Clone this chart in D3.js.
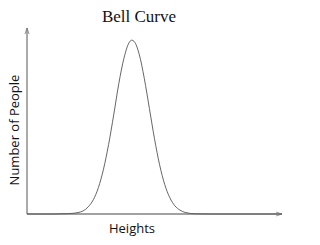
<!doctype html>
<html>
<head>
<meta charset="utf-8">
<style>
  body { margin: 0; background: #fff; }
  svg { display: block; }
</style>
<script src="https://d3js.org/d3.v7.min.js"></script>
</head>
<body>
<svg id="chart" width="320" height="245"></svg>
<script>
// heights (arbitrary units) and number of people
var heights = [0, 10, 16, 20, 24, 26, 28, 30, 32, 34, 36, 38, 40, 41, 42, 44, 46, 48, 50, 52, 54, 56, 58, 60, 62, 66, 72, 100];
var people  = [0, 0, 0.2, 0.8, 4.1, 8.2, 15.2, 25.8, 40, 57, 75, 89.5, 98.5, 100, 99.3, 91.9, 78, 60.7, 43.3, 28.3, 17, 9.4, 4.7, 2.2, 0.9, 0.1, 0, 0];

var titleText = "Bell Curve";
var xLabel = "Heights";
var yLabel = "Number of People";

var svg = d3.select("#chart");
var plotLeft = 27, plotRight = 282, plotBottom = 214, plotTop = 28;

var x = d3.scaleLinear().domain([0, 100]).range([plotLeft, plotRight]);
var y = d3.scaleLinear().domain([0, 107]).range([plotBottom, plotTop]);

// axes with arrowheads
svg.append("line")
  .attr("x1", x(0)).attr("y1", y(0)).attr("x2", x(0)).attr("y2", y(107))
  .attr("stroke", "#555").attr("stroke-width", 1);
svg.append("path")
  .attr("d", "M" + (x(0) - 2) + "," + (y(107) + 6) + "L" + x(0) + "," + y(107) + "L" + (x(0) + 2) + "," + (y(107) + 6))
  .attr("fill", "none").attr("stroke", "#777").attr("stroke-width", 0.8);

svg.append("line")
  .attr("x1", x(0)).attr("y1", y(0)).attr("x2", x(100)).attr("y2", y(0))
  .attr("stroke", "#444").attr("stroke-width", 1.2);
svg.append("path")
  .attr("d", "M" + (x(100) - 6) + "," + (y(0) - 2) + "L" + x(100) + "," + y(0) + "L" + (x(100) - 6) + "," + (y(0) + 2))
  .attr("fill", "none").attr("stroke", "#888").attr("stroke-width", 0.8);

// the curve
var line = d3.line()
  .x(function(d, i) { return x(heights[i]); })
  .y(function(d) { return y(d); })
  .curve(d3.curveMonotoneX);

svg.append("path")
  .attr("d", line(people))
  .attr("fill", "none")
  .attr("stroke", "#555")
  .attr("stroke-width", 0.9);

// text
svg.append("text")
  .attr("x", 139).attr("y", 22)
  .attr("text-anchor", "middle")
  .attr("font-family", "Liberation Serif, Times New Roman, serif")
  .attr("font-size", 17)
  .attr("fill", "#111")
  .text(titleText);

svg.append("text")
  .attr("x", 132).attr("y", 233)
  .attr("text-anchor", "middle")
  .attr("font-family", "Open Sans, Liberation Sans, sans-serif")
  .attr("font-size", 13)
  .attr("fill", "#111")
  .text(xLabel);

svg.append("text")
  .attr("transform", "translate(19,130) rotate(-90)")
  .attr("text-anchor", "middle")
  .attr("font-family", "Open Sans, Liberation Sans, sans-serif")
  .attr("font-size", 13)
  .attr("fill", "#111")
  .text(yLabel);
</script>
</body>
</html>
